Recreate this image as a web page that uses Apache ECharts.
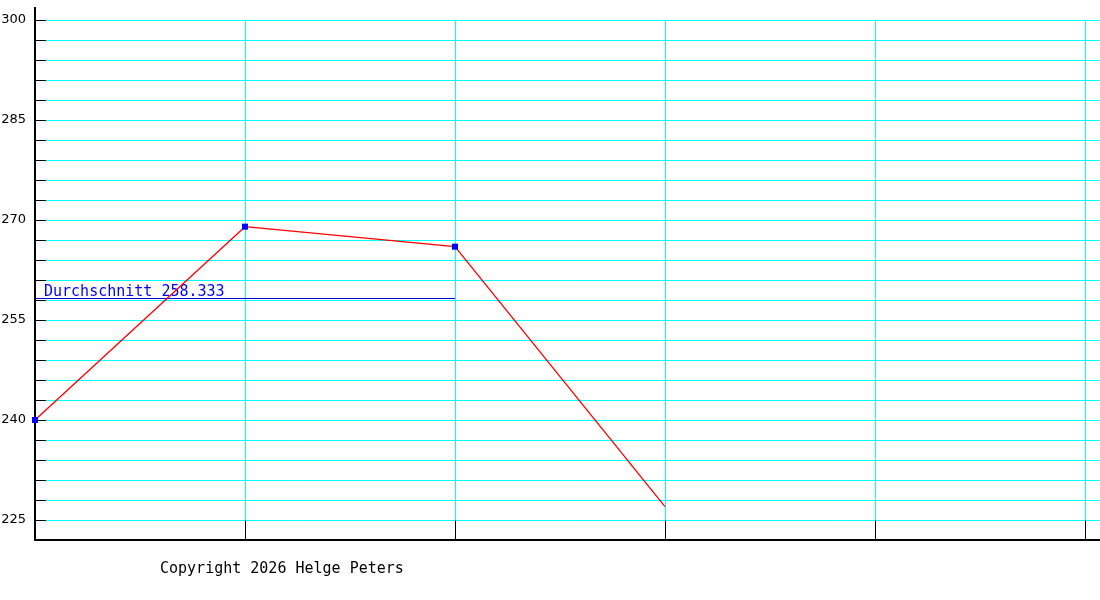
<!DOCTYPE html>
<html><head><meta charset="utf-8">
<script src="https://cdn.jsdelivr.net/npm/echarts@6/dist/echarts.min.js"></script>
<style>html,body{margin:0;padding:0;background:#fff}#c{width:1100px;height:600px}</style>
</head><body><div id="c"></div>
<script>
var xIndex = [0, 1, 2, 3];
var values = [240, 269, 266, 227];
var markerShown = [true, true, true, false];
var avgCount = 3;
var yMin = 222, yMax = 300, yStep = 3, labelStep = 15, labelBase = 225;
var copyright = 'Copyright 2026 Helge Peters';

var avg = values.slice(0, avgCount).reduce(function (a, b) { return a + b; }, 0) / avgCount;
var avgText = 'Durchschnitt ' + (Math.round(avg * 1000) / 1000).toFixed(3);

var chart = echarts.init(document.getElementById('c'), null, {renderer: 'canvas'});
var mono = '"DejaVu Sans Mono", "Liberation Mono", monospace';
chart.setOption({
  animation: false,
  backgroundColor: '#fff',
  grid: {left: 35, top: 20, right: 0, bottom: 60, containLabel: false, outerBoundsMode: 'none'},
  xAxis: {
    type: 'value', min: 0, max: 1065 / 210, interval: 1,
    axisLine: {show: true, onZero: false, lineStyle: {color: '#000', width: 2}},
    axisTick: {show: true, inside: true, length: 20, lineStyle: {color: '#000', width: 1}},
    axisLabel: {show: false},
    splitLine: {show: true, showMinLine: false, showMaxLine: false, lineStyle: {color: '#00ffff', width: 1}}
  },
  yAxis: {
    type: 'value', min: yMin, max: yMax, interval: yStep,
    axisLine: {show: true, onZero: false, lineStyle: {color: '#000', width: 2}},
    axisTick: {show: true, inside: true, length: 11, lineStyle: {color: '#000', width: 1}},
    axisLabel: {
      show: true, margin: 9, color: '#000', fontSize: 13, fontFamily: '"DejaVu Sans", sans-serif',
      formatter: function (v) { return ((v - labelBase) % labelStep === 0) ? String(v) : ''; }
    },
    splitLine: {show: true, showMinLine: false, lineStyle: {color: '#00ffff', width: 1}}
  },
  graphic: [
    {type: 'line', shape: {x1: 35, y1: 7, x2: 35, y2: 21}, style: {stroke: '#000', lineWidth: 2}, z: 10},
    {type: 'text', left: 160, top: 562, style: {text: copyright, font: '15px ' + mono, fill: '#000'}}
  ],
  series: [{
    type: 'line',
    data: xIndex.map(function (x, i) {
      return {value: [x, values[i]], symbol: markerShown[i] ? 'rect' : 'none'};
    }),
    symbolSize: 6,
    lineStyle: {color: '#ff0000', width: 1.3},
    itemStyle: {color: '#0000ff'},
    markLine: {
      silent: true, symbol: 'none',
      lineStyle: {color: '#0000cc', width: 1, type: 'solid'},
      label: {show: true, position: 'insideStartTop', formatter: avgText, color: '#0000ff', fontSize: 15, fontFamily: mono, distance: [9, -2]},
      data: [[{coord: [0, avg]}, {coord: [avgCount - 1, avg]}]]
    },
    z: 5
  }]
});
</script></body></html>
